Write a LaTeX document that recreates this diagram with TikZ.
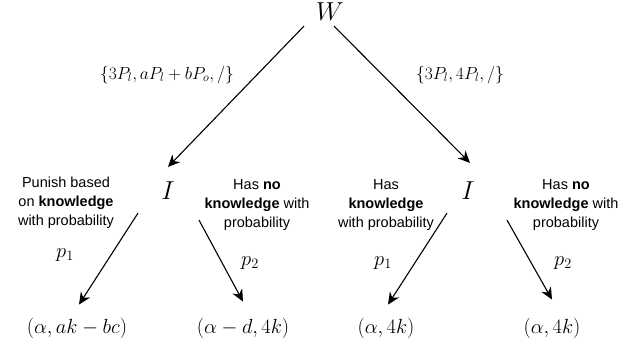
\documentclass[tikz,border=0pt]{standalone}
\usepackage{fix-cm}
\usepackage{fontspec}
\setsansfont{Liberation Sans}
\usetikzlibrary{arrows.meta,positioning}
\tikzset{
  player/.style = {
    inner sep=3pt,
    font=\fontsize{26}{30}\selectfont
  },
  payoff/.style = {
    inner sep=3pt,
    font=\fontsize{20.5}{24}\selectfont
  },
  strategy/.style = {
    font=\fontsize{17.5}{20}\selectfont
  },
  chance/.style = {
    align=center,
    font=\sffamily\fontsize{14.5}{19}\selectfont
  },
  prob/.style = {
    font=\fontsize{20.5}{22}\selectfont
  },
  branch/.style = {
    line width=1.1pt,
    -{Stealth[length=12pt,width=11pt]}
  }
}

\begin{document}
\begin{tikzpicture}[x=1pt, y=-1pt]
\useasboundingbox (0,0) rectangle (641,348);

% Root W
\node[player] (W) at (330,12) {$W$};

% Information sets
\node[player] (I1) at (168,191) {$I$};
\node[player] (I2) at (468,191) {$I$};

% Payoffs
\node[payoff] (L1) at (77,328) {$(\alpha, ak-bc)$};
\node[payoff] (L2) at (243,328) {$(\alpha-d, 4k)$};
\node[payoff] (L3) at (386,328) {$(\alpha, 4k)$};
\node[payoff] (L4) at (552,328) {$(\alpha, 4k)$};

% Strategy sets
\node[strategy] (s1) at (167,75) {$\{3P_l, aP_l+bP_o, /\}$};
\node[strategy] (s2) at (460,75) {$\{3P_l, 4P_l, /\}$};

% Chance moves, left
\node[chance] (c1) at (66,203) {Punish based\\on \textbf{knowledge}\\with probability};
\node[prob] (p1) at (65,255) {$p_1$};
\node[chance] (c2) at (257,205) {Has \textbf{no}\\\textbf{knowledge} with\\probability};
\node[prob] (p2) at (250,263) {$p_2$};

% Chance moves, right
\node[chance] (c3) at (386,205) {Has\\\textbf{knowledge}\\with probability};
\node[prob] (p3) at (383,263) {$p_1$};
\node[chance] (c4) at (566,205) {Has \textbf{no}\\\textbf{knowledge} with\\probability};
\node[prob] (p4) at (563,263) {$p_2$};

% Branches
\draw[branch] ([xshift=-26pt, yshift=-2pt]W.south) -- ([yshift=12pt]I1.north);
\draw[branch] ([xshift=4pt, yshift=-2pt]W.south) -- ([xshift=2pt, yshift=16pt]I2.north);

\draw[branch] ([xshift=-30pt, yshift=-10pt]I1.south) -- ([xshift=2pt, yshift=10pt]L1.north);
\draw[branch] ([xshift=31pt, yshift=-17pt]I1.south) -- ([yshift=13pt]L2.north);
\draw[branch] ([xshift=-21pt, yshift=-10pt]I2.south) -- ([xshift=2pt, yshift=10pt]L3.north);
\draw[branch] ([xshift=39pt, yshift=-17pt]I2.south) -- ([yshift=15pt]L4.north);

\end{tikzpicture}
\end{document}
